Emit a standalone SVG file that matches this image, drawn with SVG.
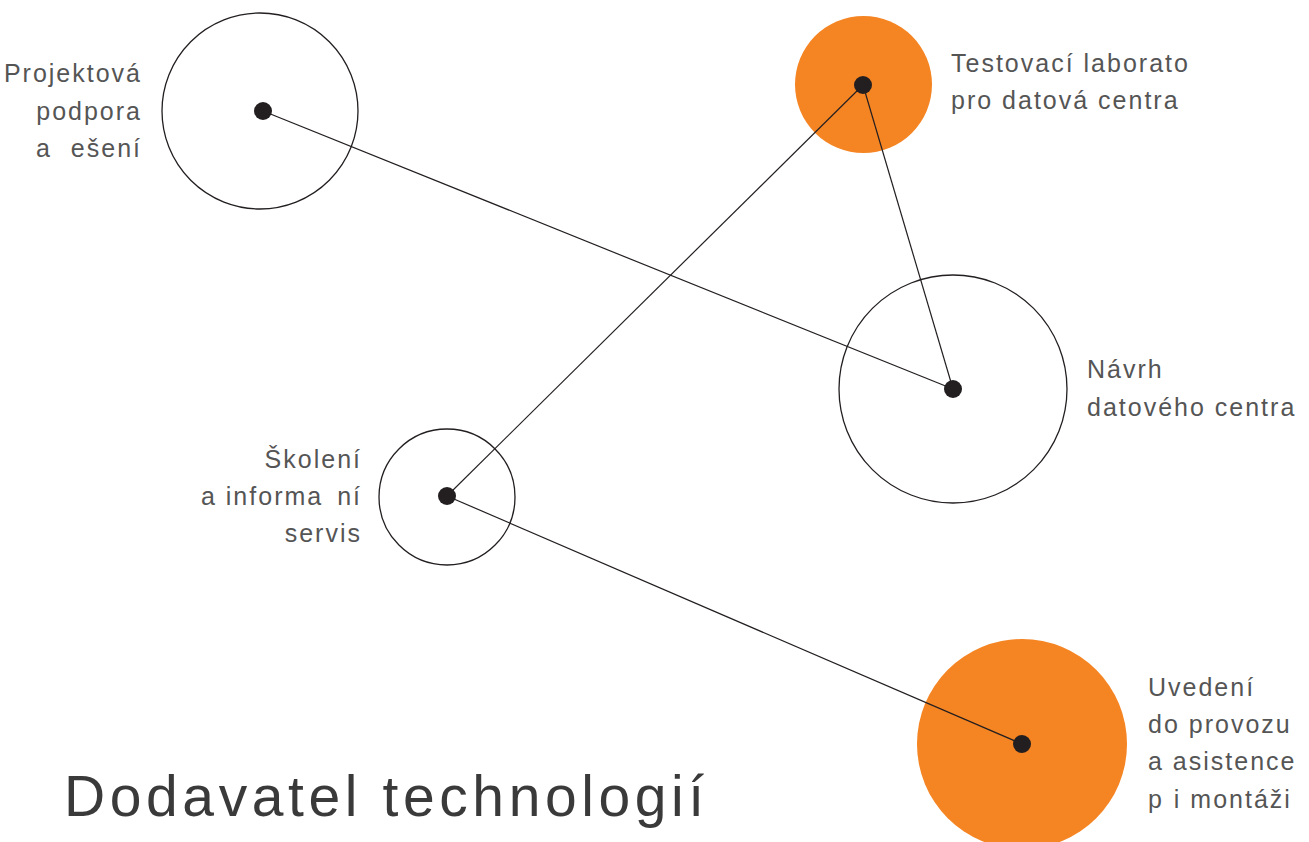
<svg xmlns="http://www.w3.org/2000/svg" width="1309" height="842" viewBox="0 0 1309 842">
<style>
.ring{fill:none;stroke:#231f20;stroke-width:1.3}
.fillc{fill:#f58423;stroke:none}
.dot{fill:#231f20}
.lbl{font-family:"Liberation Sans",Arial,sans-serif;font-size:25px;fill:#555;letter-spacing:2px;white-space:pre}
.r{text-anchor:end}
.title{font-family:"Liberation Sans",Arial,sans-serif;font-size:57px;fill:#3a3a3a;letter-spacing:4.6px}
.conn line{stroke:#231f20;stroke-width:1.2}
</style>
<rect width="1309" height="842" fill="#fff"/>
<g id="n-projektova">
<circle class="ring" cx="260" cy="111" r="98"/>
<text class="lbl r" x="142" y="82" letter-spacing="1.5">Projektová</text>
<text class="lbl r" x="142" y="120">podpora</text>
<text class="lbl r" x="142" y="157">a <tspan dx="10">ešení</tspan></text>
</g>
<g id="n-testovaci">
<circle class="fillc" cx="863.5" cy="84.5" r="68.5"/>
<text class="lbl" x="951" y="72">Testovací laborato</text>
<text class="lbl" x="951" y="109">pro datová centra</text>
</g>
<g id="n-navrh">
<circle class="ring" cx="953" cy="389" r="114"/>
<text class="lbl" x="1087" y="378">Návrh</text>
<text class="lbl" x="1087" y="416">datového centra</text>
</g>
<g id="n-skoleni">
<circle class="ring" cx="447" cy="497" r="68"/>
<text class="lbl r" x="362" y="468">Školení</text>
<text class="lbl r" x="362" y="505">a informa <tspan dx="5">ní</tspan></text>
<text class="lbl r" x="362" y="542">servis</text>
</g>
<g id="n-uvedeni">
<circle class="fillc" cx="1022" cy="744" r="105"/>
<text class="lbl" x="1148" y="696">Uvedení</text>
<text class="lbl" x="1148" y="733" letter-spacing="1.7">do provozu</text>
<text class="lbl" x="1148" y="770" letter-spacing="1.8">a asistence</text>
<text class="lbl" x="1148" y="808">p <tspan dx="1">i montáži</tspan></text>
</g>
<g id="connectors" class="conn">
<line x1="263" y1="111" x2="953" y2="389"/>
<line x1="863" y1="85" x2="953" y2="389"/>
<line x1="863" y1="85" x2="447" y2="496"/>
<line x1="447" y1="496" x2="1022" y2="744"/>
</g>
<g id="dots">
<circle class="dot" cx="263" cy="111" r="9"/>
<circle class="dot" cx="863" cy="85" r="9"/>
<circle class="dot" cx="953" cy="389" r="9"/>
<circle class="dot" cx="447" cy="496" r="9"/>
<circle class="dot" cx="1022" cy="744" r="9"/>
</g>
<text class="title" x="64" y="816">Dodavatel technologií</text>
</svg>
